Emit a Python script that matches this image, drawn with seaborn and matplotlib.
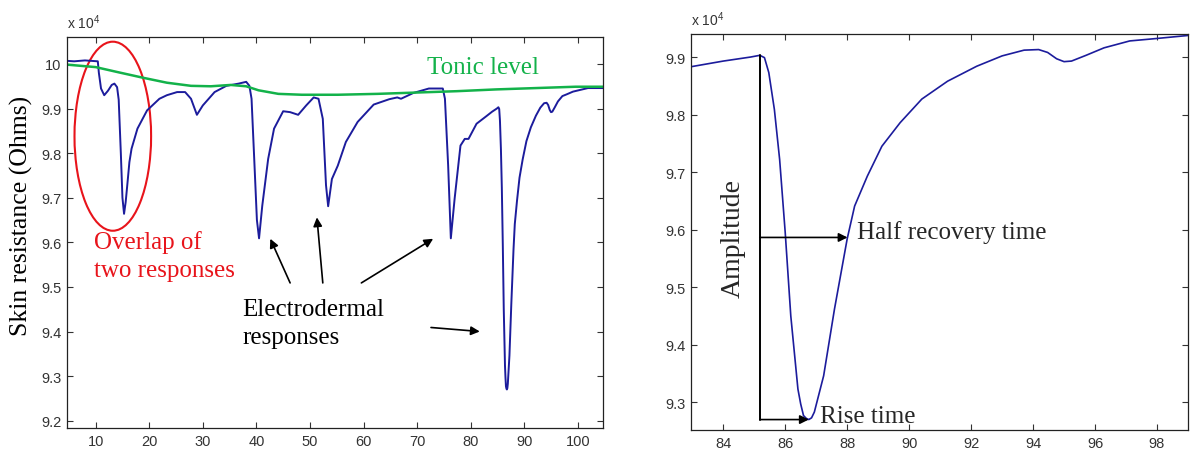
import numpy as np
import pandas as pd
import matplotlib
matplotlib.use("Agg")
import matplotlib.pyplot as plt
from matplotlib.patches import Ellipse
from matplotlib.ticker import FuncFormatter
import seaborn as sns

# --- skin resistance trace (time in s, resistance in Ohms) ---
time_s = [
    4.7, 6.0, 8.0, 10.4, 10.6, 11.0, 11.6, 12.3, 13.0, 13.5, 14.0, 14.3, 14.7,
    15.0, 15.3, 15.6, 15.9, 16.3, 16.7, 17.8, 19.6, 21.9, 23.3, 25.2, 26.7,
    27.8, 28.9, 30.0, 32.2, 34.4, 36.7, 38.1, 38.7, 39.1, 39.6, 40.1, 40.5,
    41.1, 42.2, 43.3, 45.0, 46.3, 47.8, 49.3, 50.7, 51.6, 52.4, 53.0, 53.4,
    54.1, 55.2, 56.7, 58.9, 61.9, 64.8, 66.3, 67.0, 69.3, 72.2, 74.8, 75.2,
    75.8, 76.3, 77.0, 78.1, 78.9, 79.6, 81.1, 82.94, 84.0, 84.88, 85.18,
    85.33, 85.47, 85.65, 85.82, 86.0, 86.18, 86.41, 86.5, 86.59, 86.68, 86.76,
    86.85, 86.94, 87.24, 87.59, 88.0, 88.24, 88.65, 89.12, 89.71, 90.41,
    91.24, 92.18, 93.0, 93.71, 94.18, 94.47, 94.76, 95.0, 95.24, 95.71, 96.29,
    97.12, 97.94, 99.1, 101.9, 104.7,
]
resistance_ohm = [
    100070, 100060, 100080, 100060, 99800, 99450, 99300, 99400, 99530, 99560,
    99480, 99200, 98000, 97000, 96640, 96900, 97280, 97800, 98100, 98550,
    98960, 99220, 99300, 99370, 99370, 99220, 98860, 99070, 99370, 99510,
    99560, 99600, 99510, 99220, 97870, 96500, 96090, 96820, 97870, 98550,
    98940, 98920, 98860, 99070, 99250, 99220, 98770, 97280, 96810, 97420,
    97720, 98250, 98700, 99090, 99210, 99250, 99220, 99350, 99450, 99450,
    99220, 97720, 96090, 96970, 98170, 98320, 98320, 98660, 98830, 98930,
    99000, 99030, 98990, 98730, 98090, 97220, 95950, 94500, 93230, 92970,
    92770, 92720, 92700, 92730, 92830, 93460, 94620, 95840, 96410, 96930,
    97450, 97860, 98270, 98580, 98840, 99020, 99120, 99130, 99080, 98970,
    98920, 98930, 99030, 99160, 99280, 99320, 99380, 99460, 99460,
]

# --- tonic level (slow baseline) ---
tonic_time_s = [
    4.7, 10.0, 14.4, 18.9, 23.3, 27.8, 31.5, 35.2, 38.1, 40.4, 44.1, 48.5,
    55.2, 62.6, 70.0, 77.4, 84.8, 92.2, 99.6, 104.7,
]
tonic_ohm = [
    99985, 99930, 99810, 99690, 99580, 99510, 99500, 99530, 99500, 99410,
    99330, 99310, 99310, 99330, 99360, 99390, 99430, 99460, 99490, 99490,
]

x_ticks_left = [10, 20, 30, 40, 50, 60, 70, 80, 90, 100]
y_ticks_left = [92000, 93000, 94000, 95000, 96000, 97000, 98000, 99000, 100000]
x_ticks_right = [84, 86, 88, 90, 92, 94, 96, 98]
y_ticks_right = [93000, 94000, 95000, 96000, 97000, 98000, 99000]

BLUE = "#1c1c9c"
GREEN = "#13b24a"
RED = "#e8141b"
SERIF = ["Liberation Serif", "DejaVu Serif"]

sns.set_theme(style="ticks")
plt.rcParams["font.family"] = ["Liberation Sans", "DejaVu Sans"]
plt.rcParams["mathtext.fontset"] = "custom"
plt.rcParams["mathtext.rm"] = "Liberation Sans"

trace = pd.DataFrame({"t": time_s, "r": resistance_ohm})
tonic = pd.DataFrame({"t": tonic_time_s, "r": tonic_ohm})


def style_axes(ax, xticks, yticks):
    ax.set_xticks(xticks)
    ax.set_yticks(yticks)
    ax.yaxis.set_major_formatter(FuncFormatter(lambda v, p: f"{v / 1e4:g}"))
    ax.tick_params(direction="in", length=4, width=0.8, colors="#333333",
                   labelsize=10.5, top=True, right=True, pad=4)
    for s in ax.spines.values():
        s.set_visible(True)
        s.set_linewidth(0.9)
        s.set_color("#222222")
    ax.set_xlabel("")
    ax.set_ylabel("")
    ax.text(0.0, 1.015, r"x 10$^4$", transform=ax.transAxes, fontsize=10,
            color="#333333", ha="left", va="bottom")


fig = plt.figure(figsize=(11.9, 4.52), dpi=100)
ax1 = fig.add_axes([0.0563, 0.0509, 0.4504, 0.865])
ax2 = fig.add_axes([0.5807, 0.0465, 0.4176, 0.876])

# ---------------- left panel ----------------
sns.lineplot(data=trace, x="t", y="r", ax=ax1, color=BLUE, lw=1.4,
             estimator=None, sort=False)
sns.lineplot(data=tonic, x="t", y="r", ax=ax1, color=GREEN, lw=1.8,
             estimator=None, sort=False)
ax1.set_xlim(4.65, 104.7)
ax1.set_ylim(91836, 100605)
style_axes(ax1, x_ticks_left, y_ticks_left)

ax1.add_patch(Ellipse((13.2, 98380), width=14.3, height=4240, fill=False,
                      edgecolor=RED, lw=1.5))
ax1.text(9.6, 95700, "Overlap of\ntwo responses", color=RED, fontsize=18,
         family=SERIF, ha="left", va="center", linespacing=1.35)
ax1.text(71.9, 99930, "Tonic level", color=GREEN, fontsize=18,
         family=SERIF, ha="left", va="center")
ax1.text(37.4, 94190, "Electrodermal\nresponses", color="black", fontsize=18,
         family=SERIF, ha="left", va="center", linespacing=1.35)
ax1.set_ylabel("Skin resistance (Ohms)", fontsize=18.5, family=SERIF,
               color="black")
ax1.yaxis.set_label_coords(-0.063, 0.545)

arrow_kw = dict(arrowstyle="-|>", color="black", lw=1.2, mutation_scale=13,
                shrinkA=0, shrinkB=0)
for tail, head in [((46.3, 95090), (42.6, 96080)),
                   ((52.4, 95090), (51.3, 96560)),
                   ((59.6, 95090), (73.0, 96080)),
                   ((72.6, 94090), (81.7, 94000))]:
    ax1.annotate("", xy=head, xytext=tail, arrowprops=arrow_kw)

# ---------------- right panel ----------------
sns.lineplot(data=trace, x="t", y="r", ax=ax2, color=BLUE, lw=1.2,
             estimator=None, sort=False)
ax2.set_xlim(82.96, 99.0)
ax2.set_ylim(92519, 99400)
style_axes(ax2, x_ticks_right, y_ticks_right)

# response landmarks derived from the trace
t = np.array(time_s)
r = np.array(resistance_ohm, dtype=float)
win = (t > 84) & (t < 86)
i_peak = np.where(win)[0][np.argmax(r[win])]
win2 = (t > 85) & (t < 88)
i_min = np.where(win2)[0][np.argmin(r[win2])]
t_on, r_on = t[i_peak], r[i_peak]
t_min, r_min = t[i_min], r[i_min]
r_half = (r_on + r_min) / 2
rec = slice(i_min, i_min + 12)
t_half = np.interp(r_half, r[rec], t[rec])

ax2.plot([t_on, t_on], [r_on, r_min], color="black", lw=1.4)
ax2.annotate("", xy=(t_min, r_min), xytext=(t_on, r_min), arrowprops=arrow_kw)
ax2.annotate("", xy=(t_half, r_half), xytext=(t_on, r_half), arrowprops=arrow_kw)

ax2.text(t_half + 0.3, r_half + 100, "Half recovery time", fontsize=18,
         family=SERIF, ha="left", va="center")
ax2.text(t_min + 0.35, r_min + 70, "Rise time", fontsize=18, family=SERIF,
         ha="left", va="center")
ax2.text(t_on - 0.85, r_half, "Amplitude", fontsize=20, family=SERIF,
         ha="center", va="center", rotation=90)

fig.savefig("out.png", dpi=100)
